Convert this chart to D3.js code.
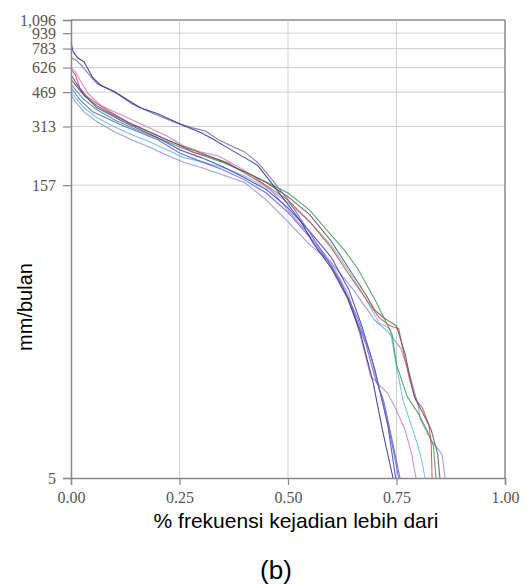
<!DOCTYPE html>
<html>
<head>
<meta charset="utf-8">
<script src="https://cdn.jsdelivr.net/npm/d3@7"></script>
<style>
  body { margin: 0; background: #fff; }
  svg { display: block; }
</style>
</head>
<body>
<svg id="chart" width="530" height="587"></svg>
<script>
// tick labels
var yTicks = [5, 157, 313, 469, 626, 783, 939, 1096];
var xTicks = [0, 0.25, 0.5, 0.75, 1];

// flow duration curves, [fraction exceeded, mm/bulan]
var sNavy = [[0,840],[0.005,755],[0.015,703],[0.03,671],[0.05,556],[0.07,506],[0.1,472],[0.13,429],[0.16,390],[0.2,364],[0.23,339],[0.26,316],[0.3,291],[0.33,268],[0.36,244],[0.4,217],[0.43,198],[0.46,163],[0.5,125],[0.53,102],[0.56,78],[0.6,59],[0.636,42],[0.666,28],[0.696,15.4],[0.719,8.5],[0.742,5]];
var sSlate = [[0,703],[0.01,687],[0.025,640],[0.04,583],[0.06,518],[0.08,495],[0.11,455],[0.14,409],[0.17,381],[0.2,356],[0.24,328],[0.28,308],[0.31,297],[0.34,268],[0.37,249],[0.4,232],[0.43,205],[0.46,171],[0.5,132],[0.54,97],[0.58,71],[0.62,51],[0.66,33],[0.69,21.5],[0.72,11.8],[0.74,7.4],[0.755,5]];
var sBlue = [[0,576],[0.01,530],[0.03,455],[0.06,390],[0.09,360],[0.12,331],[0.16,301],[0.2,274],[0.25,238],[0.3,217],[0.35,195],[0.4,171],[0.45,149],[0.5,120],[0.55,91],[0.6,67],[0.64,46],[0.67,30],[0.7,18],[0.73,9.3],[0.748,5]];
var sBlue2 = [[0,495],[0.02,429],[0.05,372],[0.08,347],[0.12,316],[0.16,291],[0.2,268],[0.25,229],[0.3,207],[0.35,188],[0.4,167],[0.45,143],[0.5,114],[0.55,85],[0.6,61],[0.64,41],[0.68,24],[0.7,16.4],[0.72,12.5],[0.74,7.8],[0.758,5]];
var sGray = [[0,543],[0.01,512],[0.03,450],[0.06,399],[0.1,356],[0.14,320],[0.18,294],[0.22,268],[0.26,246],[0.3,229],[0.35,207],[0.4,184],[0.45,162],[0.5,137],[0.55,111],[0.6,81],[0.64,59],[0.68,43],[0.7,36],[0.72,33],[0.75,30],[0.77,21.5],[0.79,13.2],[0.81,10.8],[0.83,8.8],[0.845,6.6],[0.85,5]];
var sRed = [[0,611],[0.01,576],[0.02,495],[0.035,450],[0.06,409],[0.09,372],[0.13,331],[0.17,301],[0.21,274],[0.25,252],[0.28,232],[0.32,219],[0.36,205],[0.4,181],[0.45,156],[0.5,132],[0.55,102],[0.6,75],[0.64,55],[0.68,41],[0.71,33],[0.735,30],[0.755,29],[0.765,22.5],[0.78,16],[0.795,12.5],[0.81,11.4],[0.825,9.3],[0.83,7.4],[0.832,5]];
var sGreen = [[0,512],[0.01,483],[0.03,429],[0.06,381],[0.1,339],[0.14,308],[0.18,284],[0.22,262],[0.26,241],[0.3,224],[0.35,205],[0.4,184],[0.45,163],[0.5,143],[0.55,117],[0.6,87],[0.63,73],[0.66,59],[0.7,41],[0.73,30],[0.74,27],[0.75,19],[0.775,13],[0.8,10.7],[0.82,8.8],[0.835,7.3],[0.841,5]];
var sCyan = [[0,472],[0.01,440],[0.03,390],[0.06,347],[0.1,312],[0.14,284],[0.18,262],[0.22,238],[0.26,217],[0.3,207],[0.35,193],[0.4,175],[0.45,153],[0.5,128],[0.55,102],[0.6,77],[0.64,57],[0.68,41],[0.71,31],[0.735,29],[0.75,18.6],[0.765,12.5],[0.79,8.5],[0.805,6.6],[0.816,5]];
var sPink = [[0,626],[0.01,597],[0.02,543],[0.04,460],[0.07,399],[0.1,372],[0.14,339],[0.18,308],[0.22,281],[0.26,249],[0.3,232],[0.34,221],[0.38,198],[0.42,175],[0.46,149],[0.5,117],[0.55,87],[0.6,63],[0.64,43],[0.67,25],[0.69,16.6],[0.73,13.5],[0.75,11.1],[0.77,8.8],[0.785,6.6],[0.795,5]];
var sLilac = [[0,455],[0.01,419],[0.03,372],[0.06,331],[0.1,294],[0.14,268],[0.18,246],[0.22,224],[0.26,205],[0.3,193],[0.35,177],[0.4,162],[0.45,132],[0.5,102],[0.55,78],[0.6,63],[0.65,46],[0.7,32],[0.73,28],[0.76,23],[0.78,17],[0.8,11.8],[0.805,9.9],[0.83,7.8],[0.855,6.6],[0.862,5]];

var series = [
    {data: sLilac, color: '#8c8ce6'},
    {data: sCyan, color: '#5cc4d4'},
    {data: sPink, color: '#c47ccc'},
    {data: sGreen, color: '#3f9a55'},
    {data: sRed, color: '#e0443c'},
    {data: sGray, color: '#555555'},
    {data: sBlue2, color: '#5a5ae0'},
    {data: sBlue, color: '#3b3bcc'},
    {data: sSlate, color: '#6a6aa8'},
    {data: sNavy, color: '#2c2c8c'}
];

var svg = d3.select('#chart');
// plot box (top is taken by window.top, so use pTop)
var pLeft = 71, pRight = 505, pTop = 20, pBottom = 478;

var x = d3.scaleLinear().domain([0, 1]).range([pLeft, pRight]);
var y = d3.scaleLog().domain([5, 1096]).range([pBottom, pTop]);

// grid
svg.append('g').selectAll('line')
    .data(yTicks.slice(1))
    .enter().append('line')
    .attr('x1', pLeft).attr('x2', pRight)
    .attr('y1', function(d){ return y(d); })
    .attr('y2', function(d){ return y(d); })
    .attr('stroke', function(d){ return d === 1096 ? '#888' : '#cfcfcf'; })
    .attr('stroke-width', function(d){ return d === 1096 ? 1.5 : 1; });

svg.append('g').selectAll('line')
    .data(xTicks.slice(1))
    .enter().append('line')
    .attr('y1', pTop).attr('y2', pBottom)
    .attr('x1', function(d){ return x(d); })
    .attr('x2', function(d){ return x(d); })
    .attr('stroke', function(d){ return d === 1 ? '#888' : '#cfcfcf'; })
    .attr('stroke-width', function(d){ return d === 1 ? 1.5 : 1; });

// lines
var line = d3.line()
    .x(function(d){ return x(d[0]); })
    .y(function(d){ return y(d[1]); });

svg.append('g').selectAll('path')
    .data(series)
    .enter().append('path')
    .attr('d', function(s){ return line(s.data); })
    .attr('fill', 'none')
    .attr('stroke', function(s){ return s.color; })
    .attr('stroke-width', 1.1)
    .attr('stroke-opacity', 0.85);

// axes
var yAxis = d3.axisLeft(y).tickValues(yTicks).tickFormat(d3.format(',')).tickSizeOuter(0).tickSize(8);
var xAxis = d3.axisBottom(x).tickValues(xTicks).tickFormat(d3.format('.2f')).tickSizeOuter(0).tickSize(7);

var gy = svg.append('g').attr('transform', 'translate(' + pLeft + ',0)').call(yAxis);
var gx = svg.append('g').attr('transform', 'translate(0,' + pBottom + ')').call(xAxis);

[gy, gx].forEach(function(g){
    g.select('.domain').attr('stroke', '#888').attr('stroke-width', 1.5);
    g.selectAll('.tick line').attr('stroke', '#888').attr('stroke-width', 1.2);
    g.selectAll('.tick text')
        .attr('fill', '#555')
        .style('font-family', '"Liberation Serif", "DejaVu Serif", serif')
        .style('font-size', '16px');
});
gy.selectAll('.tick text').attr('x', -15);
gx.selectAll('.tick text').attr('y', 14);

// titles
svg.append('text')
    .attr('x', 296).attr('y', 528)
    .attr('text-anchor', 'middle')
    .style('font-family', '"Liberation Sans", Arial, sans-serif')
    .style('font-size', '21px')
    .text('% frekuensi kejadian lebih dari');

svg.append('text')
    .attr('transform', 'translate(32,307) rotate(-90)')
    .attr('text-anchor', 'middle')
    .style('font-family', '"Liberation Sans", Arial, sans-serif')
    .style('font-size', '20px')
    .text('mm/bulan');

svg.append('text')
    .attr('x', 276).attr('y', 579)
    .attr('text-anchor', 'middle')
    .style('font-family', '"Liberation Sans", Arial, sans-serif')
    .style('font-size', '26px')
    .text('(b)');
</script>
</body>
</html>
